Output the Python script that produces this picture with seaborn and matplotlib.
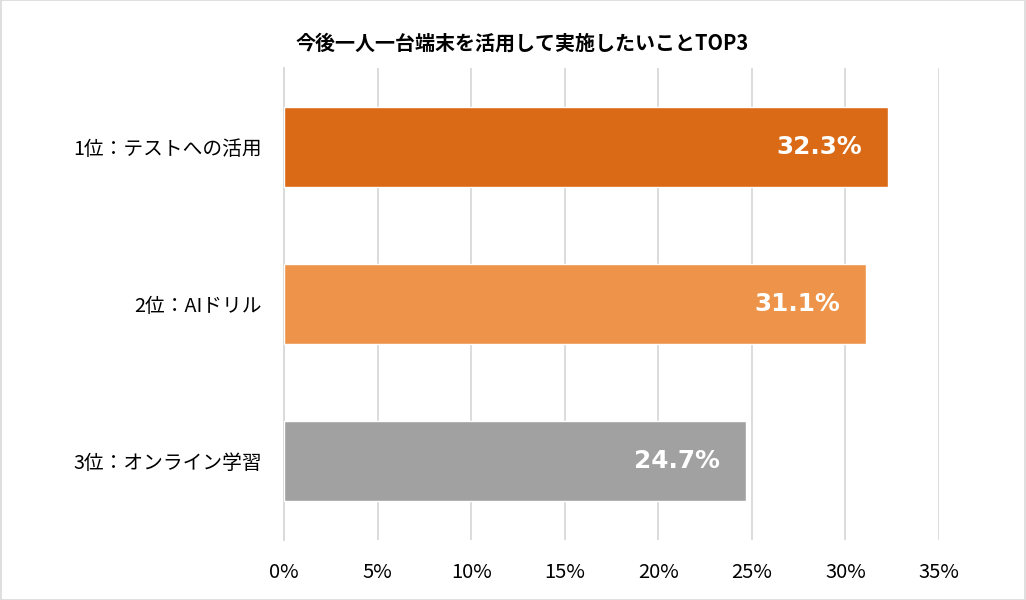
import matplotlib
matplotlib.use("Agg")
import matplotlib.pyplot as plt
import seaborn as sns
import pandas as pd
from matplotlib.ticker import FixedLocator, PercentFormatter
from matplotlib.patches import Rectangle

categories = ["1位：テストへの活用", "2位：AIドリル", "3位：オンライン学習"]
values = [32.3, 31.1, 24.7]
bar_colors = ["#DA6A16", "#ED944A", "#A0A1A0"]
xticks = [0, 5, 10, 15, 20, 25, 30, 35]
title = "今後一人一台端末を活用して実施したいことTOP3"

sns.set_theme(style="white")
plt.rcParams['font.family'] = ['Noto Sans CJK JP', 'DejaVu Sans']

df = pd.DataFrame({"cat": categories, "val": values})

fig = plt.figure(figsize=(10.26, 6.0), dpi=100)
ax = fig.add_axes([284/1026, 1-540/600, (939-284)/1026, (540-68)/600])

sns.barplot(data=df, x="val", y="cat", hue="cat", palette=bar_colors,
            order=categories, hue_order=categories, width=0.51,
            legend=False, ax=ax, saturation=1, zorder=3)

ax.set_xlim(0, 35)
ax.set_ylim(2.5, -0.5)
ax.set_xticks(xticks)
ax.xaxis.set_major_formatter(PercentFormatter(decimals=0))
ax.grid(axis="x", color="#D9D9D9", linewidth=1.3, zorder=0)
ax.set_axisbelow(True)
ax.set_xlabel("")
ax.set_ylabel("")

for s in ["top", "right", "bottom"]:
    ax.spines[s].set_visible(False)
ax.spines["left"].set_color("#D9D9D9")
ax.spines["left"].set_linewidth(1.3)

ax.tick_params(axis="x", length=0, pad=16, labelsize=14.5, labelcolor="#000000")
ax.tick_params(axis="y", which="major", length=0, pad=16, labelsize=14.2, labelcolor="#000000")
ax.yaxis.set_minor_locator(FixedLocator([-0.5, 0.5, 1.5, 2.5]))
ax.tick_params(axis="y", which="minor", length=5, width=1.3, color="#D9D9D9")

for i, v in enumerate(values):
    ax.annotate(f"{v:.1f}%", xy=(v, i), xytext=(-26, 0), textcoords="offset pixels",
                ha="right", va="center", color="white", fontsize=17.8,
                fontweight="bold", family=["DejaVu Sans"], zorder=4)

fig.text(0.509, 1-43/600, title, ha="center", va="center", fontsize=14.4,
         fontweight="bold", color="#000000")

fig.patches.append(Rectangle((0.0005, 0.0008), 0.999, 0.9985, transform=fig.transFigure,
                             fill=False, edgecolor="#D9D9D9", linewidth=1.2))

fig.savefig("out.png", dpi=100)
